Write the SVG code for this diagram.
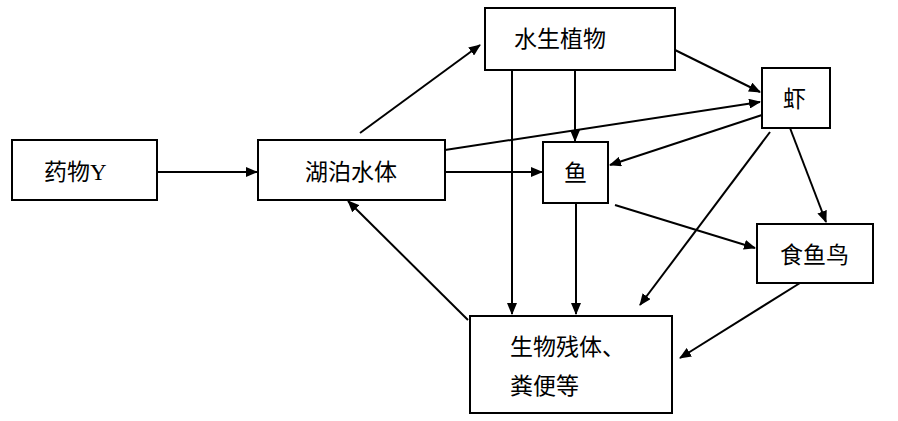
<svg xmlns="http://www.w3.org/2000/svg" width="898" height="421" viewBox="0 0 898 421">
<style>
.b{fill:#fff;stroke:#000;stroke-width:2}
.t{font-family:"Noto Sans CJK SC","Noto Sans",sans-serif;font-size:23px;fill:#000}
.c line{stroke:#000;stroke-width:2;marker-end:url(#a)}
</style>
<defs><marker id="a" markerWidth="12" markerHeight="10" refX="11" refY="5" orient="auto" markerUnits="userSpaceOnUse"><path d="M0,0L12,5L0,10z"/></marker></defs>
<rect width="898" height="421" fill="#fff"/>
<g id="yaowu"><rect class="b" x="12" y="140" width="145" height="60"/><text class="t" x="44" y="180">药物<tspan font-family="Liberation Serif,serif">Y</tspan></text></g>
<g id="hupo"><rect class="b" x="258" y="140" width="187" height="60"/><text class="t" x="305" y="180">湖泊水体</text></g>
<g id="zhiwu"><rect class="b" x="485" y="8" width="190" height="62"/><text class="t" x="514" y="47">水生植物</text></g>
<g id="xia"><rect class="b" x="762" y="68" width="68" height="60"/><text class="t" x="783" y="107">虾</text></g>
<g id="yu"><rect class="b" x="543" y="142" width="65" height="61"/><text class="t" x="564" y="181">鱼</text></g>
<g id="niao"><rect class="b" x="757" y="224" width="116" height="59"/><text class="t" x="780" y="263">食鱼鸟</text></g>
<g id="canti"><rect class="b" x="470" y="316" width="202" height="97"/><text class="t" x="510" y="355">生物残体、</text><text class="t" x="510" y="394">粪便等</text></g>
<g class="c">
<line x1="157" y1="172" x2="257" y2="172"/>
<line x1="360" y1="133" x2="480" y2="45"/>
<line x1="445" y1="150" x2="760" y2="102"/>
<line x1="445" y1="172" x2="542" y2="172"/>
<line x1="575" y1="70" x2="575" y2="141"/>
<line x1="512" y1="70" x2="512" y2="314"/>
<line x1="675" y1="50" x2="760" y2="92"/>
<line x1="762" y1="115" x2="610" y2="165"/>
<line x1="790" y1="128" x2="826" y2="222"/>
<line x1="770" y1="132" x2="640" y2="305"/>
<line x1="615" y1="205" x2="755" y2="248"/>
<line x1="576" y1="203" x2="576" y2="314"/>
<line x1="800" y1="283" x2="680" y2="358"/>
<line x1="468" y1="320" x2="348" y2="201"/>
</g>
</svg>
